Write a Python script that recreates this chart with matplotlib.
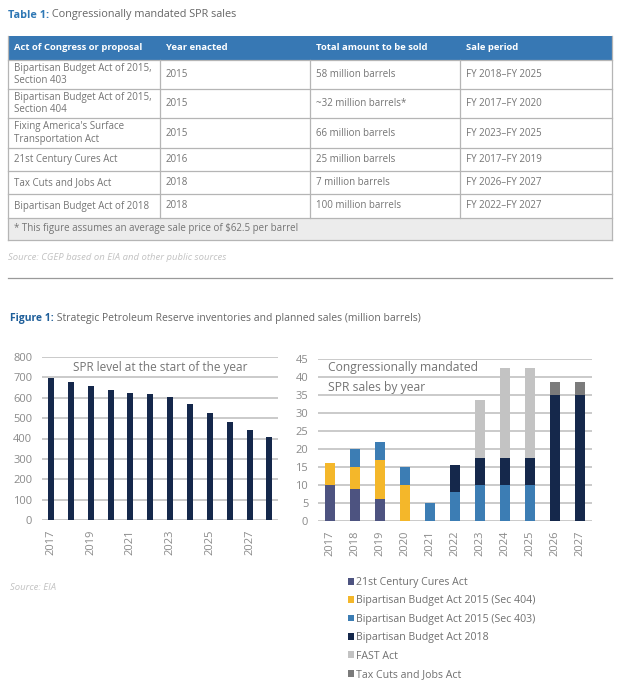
import matplotlib.pyplot as plt
from matplotlib.patches import Rectangle

plt.rcParams['font.family'] = ['Open Sans', 'DejaVu Sans']

# --- TABLE DATA ---
table_columns = ['Act of Congress or proposal', 'Year enacted', 'Total amount to be sold', 'Sale period']
acts = ['Bipartisan Budget Act of 2015,\nSection 403',
        'Bipartisan Budget Act of 2015,\nSection 404',
        "Fixing America's Surface\nTransportation Act",
        '21st Century Cures Act',
        'Tax Cuts and Jobs Act',
        'Bipartisan Budget Act of 2018']
years_enacted = ['2015', '2015', '2015', '2016', '2018', '2018']
amounts = ['58 million barrels', '~32 million barrels*', '66 million barrels',
           '25 million barrels', '7 million barrels', '100 million barrels']
periods = ['FY 2018–FY 2025', 'FY 2017–FY 2020', 'FY 2023–FY 2025',
           'FY 2017–FY 2019', 'FY 2026–FY 2027', 'FY 2022–FY 2027']
footnote = r'* This figure assumes an average sale price of \$62.5 per barrel'

# --- CHART DATA ---
spr_years = [2017, 2018, 2019, 2020, 2021, 2022, 2023, 2024, 2025, 2026, 2027, 2028]
spr_level = [695, 678, 660, 638, 625, 618, 602, 570, 525, 482, 443, 405]

sales_years = [2017, 2018, 2019, 2020, 2021, 2022, 2023, 2024, 2025, 2026, 2027]
cures = [10, 9, 6, 0, 0, 0, 0, 0, 0, 0, 0]
bba15_404 = [6, 6, 11, 10, 0, 0, 0, 0, 0, 0, 0]
bba15_403 = [0, 5, 5, 5, 5, 8, 10, 10, 10, 0, 0]
bba18 = [0, 0, 0, 0, 0, 7.5, 7.5, 7.5, 7.5, 35, 35]
fast = [0, 0, 0, 0, 0, 0, 16, 25, 25, 0, 0]
tax_cuts = [0, 0, 0, 0, 0, 0, 0, 0, 0, 3.5, 3.5]

series_names = ['21st Century Cures Act', 'Bipartisan Budget Act 2015 (Sec 404)',
                'Bipartisan Budget Act 2015 (Sec 403)', 'Bipartisan Budget Act 2018',
                'FAST Act', 'Tax Cuts and Jobs Act']
series_values = [cures, bba15_404, bba15_403, bba18, fast, tax_cuts]
series_colors = ['#4d5380', '#f4b72a', '#3c7db4', '#15284b', '#c3c3c3', '#7b7b7b']

W, H = 618, 693
TXT = '#747474'
BLUE = '#2f78b5'

fig = plt.figure(figsize=(W / 100, H / 100), dpi=100)

# overlay axis in pixel coordinates for the table and captions
ov = fig.add_axes([0, 0, 1, 1])
ov.set_xlim(0, W)
ov.set_ylim(H, 0)
ov.axis('off')


def rect(x, y):
    return [x / W, 1 - y / H]


# title of the table
t1 = ov.text(8, 15, 'Table 1:', fontsize=7.8, fontweight='bold', color=BLUE, va='center')
ov.annotate(' Congressionally mandated SPR sales', xy=(1, 0.5), xycoords=t1,
            fontsize=7.8, color='#666666', va='center')

# --- TABLE ---
col_x = [8, 160, 310, 460, 612]
row_y = [36, 60, 89, 118, 148, 171, 194, 218, 240]
line_col = '#b5b5b5'

ov.add_patch(Rectangle((col_x[0], row_y[0]), col_x[-1] - col_x[0], row_y[1] - row_y[0],
                       facecolor='#3778b4', edgecolor='none'))
ov.add_patch(Rectangle((col_x[0], row_y[-2]), col_x[-1] - col_x[0], row_y[-1] - row_y[-2],
                       facecolor='#ececec', edgecolor='none'))

for i, name in enumerate(table_columns):
    ov.text(col_x[i] + 6, (row_y[0] + row_y[1]) / 2, name, fontsize=6.8, fontweight='bold',
            color='white', va='center')

rows = list(zip(acts, years_enacted, amounts, periods))
for r, row in enumerate(rows):
    yc = (row_y[r + 1] + row_y[r + 2]) / 2
    for c, val in enumerate(row):
        ov.text(col_x[c] + 6, yc, val, fontsize=7, color=TXT, va='center', linespacing=1.15)

ov.text(col_x[0] + 6, (row_y[-2] + row_y[-1]) / 2, footnote, fontsize=7, color=TXT, va='center')

# grid lines of the table
for y in row_y[1:]:
    ov.plot([col_x[0], col_x[-1]], [y, y], color=line_col, lw=0.9)
for x in col_x[1:-1]:
    ov.plot([x, x], [row_y[1], row_y[-2]], color=line_col, lw=0.9)
ov.plot([col_x[0], col_x[0]], [row_y[0], row_y[-1]], color=line_col, lw=0.9)
ov.plot([col_x[-1], col_x[-1]], [row_y[0], row_y[-1]], color=line_col, lw=0.9)

ov.text(8, 258, 'Source: CGEP based on EIA and other public sources', fontsize=6.8,
        style='italic', color='#c2c2c2', va='center')
ov.plot([8, 612], [278, 278], color='#9a9a9a', lw=0.9)

# figure caption
f1 = ov.text(10, 319, 'Figure 1:', fontsize=7.5, fontweight='bold', color='#1f5f9a', va='center')
ov.annotate(' Strategic Petroleum Reserve inventories and planned sales (million barrels)',
            xy=(1, 0.5), xycoords=f1, fontsize=7.5, color='#666666', va='center')

ov.text(10, 588, 'Source: EIA', fontsize=6.8, style='italic', color='#c2c2c2', va='center')

# --- LEFT CHART: SPR LEVEL ---
ax1 = fig.add_axes(rect(42, 520) + [236 / W, 163 / H])
x1 = list(range(len(spr_years)))
ax1.bar(x1, spr_level, width=0.3, color='#15284b', zorder=3)
ax1.set_ylim(0, 800)
ax1.set_xlim(-0.45, 11.43)
ax1.set_yticks(range(0, 801, 100))
ax1.set_xticks(x1[::2])
ax1.set_xticklabels([str(y) for y in spr_years[::2]], rotation=90)
ax1.text(0.5, 750, 'SPR level at the start of the year', transform=ax1.get_yaxis_transform(),
         ha='center', va='center', fontsize=8.5, color=TXT)

# --- RIGHT CHART: MANDATED SALES ---
ax2 = fig.add_axes(rect(318, 521) + [274 / W, 162 / H])
x2 = list(range(len(sales_years)))
bottom = [0] * len(sales_years)
handles = []
for name, vals, col in zip(series_names, series_values, series_colors):
    b = ax2.bar(x2, vals, width=0.4, bottom=bottom, color=col, label=name, zorder=3)
    handles.append(b)
    bottom = [a + v for a, v in zip(bottom, vals)]
ax2.set_ylim(0, 45)
ax2.set_xlim(-0.48, 10.48)
ax2.set_yticks(range(0, 46, 5))
ax2.set_xticks(x2)
ax2.set_xticklabels([str(y) for y in sales_years], rotation=90)
ax2.text(-0.1, 42.5, 'Congressionally mandated', fontsize=8.7, color=TXT, va='center')
ax2.text(-0.1, 37.2, 'SPR sales by year', fontsize=8.7, color=TXT, va='center')

for ax in (ax1, ax2):
    for s in ax.spines.values():
        s.set_visible(False)
    ax.grid(axis='y', color='#c6c6c6', lw=1.3, zorder=0)
    ax.tick_params(length=0, labelsize=8, labelcolor='#8a8a8a', pad=7)
    ax.set_facecolor('none')

fig.legend(handles, series_names, loc='upper left', bbox_to_anchor=(348 / W, 1 - 577 / H),
           frameon=False, fontsize=7.6, labelcolor='#707070', handlelength=0.6,
           handleheight=0.6, handletextpad=0.2, labelspacing=0.7, borderpad=0, borderaxespad=0)

fig.savefig('out.png', dpi=100)
